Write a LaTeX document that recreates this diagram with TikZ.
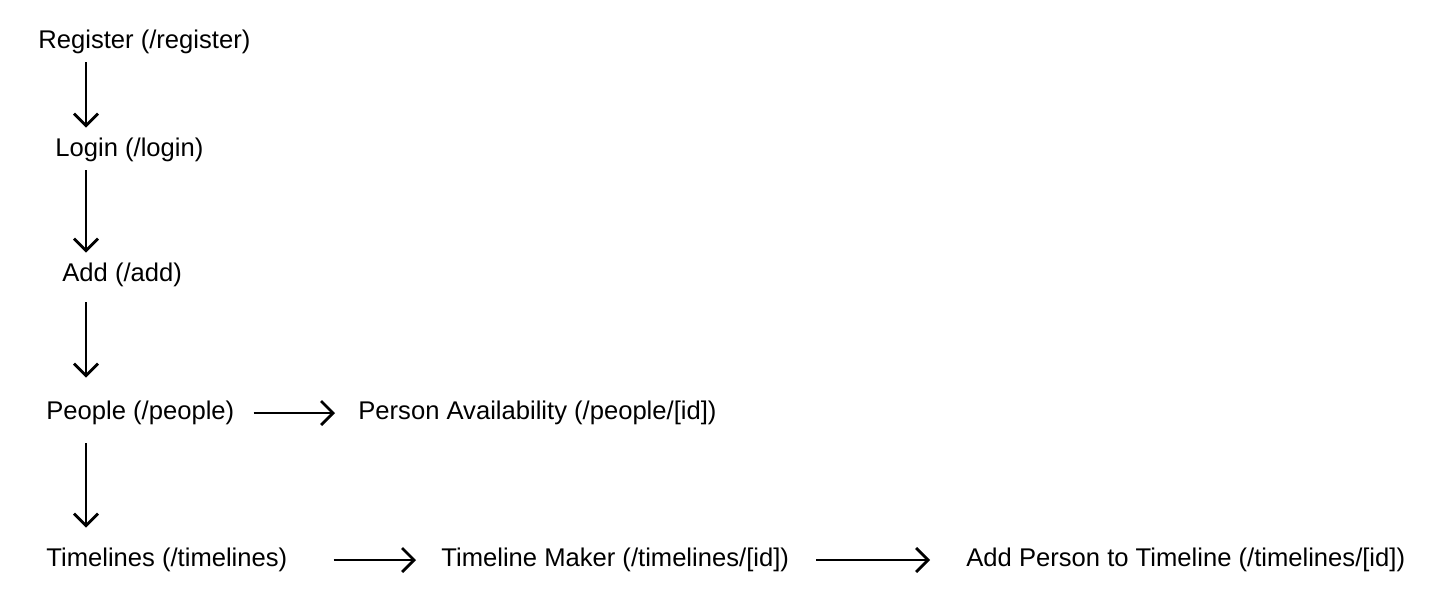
\documentclass[tikz,border=0pt]{standalone}
\usepackage{fontspec}
\setmainfont{Liberation Sans}
\usetikzlibrary{arrows.meta}

\begin{document}
\begin{tikzpicture}[x=0.5pt,y=-0.5pt,>={Straight Barb[length=6pt,width=12pt]},
  page/.style={anchor=west,inner xsep=0pt,inner ysep=5pt,font=\fontsize{12.8}{15}\selectfont},
  flow/.style={->,line width=1.4pt}]
  \useasboundingbox (0,0) rectangle (1440,605);
  % pages down the left column
  \node[page] (register) at (38,42) {Register (/register)};
  \node[page] (login) at (55,150) {Login (/login)};
  \node[page] (add) at (62,275) {Add (/add)};
  \node[page] (people) at (46,413) {People (/people)};
  \node[page] (timelines) at (46,560) {Timelines (/timelines)};
  % pages reached sideways
  \node[page] (avail) at (358,413) {Person Availability (/people/[id])};
  \node[page] (maker) at (441,560) {Timeline Maker (/timelines/[id])};
  \node[page] (addperson) at (966,560) {Add Person to Timeline (/timelines/[id])};
  % the downward arrows all sit on one vertical line
  \coordinate (spine) at (86,0);
  \draw[flow,shorten <=-1pt] (register.south -| spine) -- (login.north -| spine);
  \draw[flow,shorten <=-1pt] (login.south -| spine) -- (add.north -| spine);
  \draw[flow,shorten <=2.5pt,shorten >=6.5pt] (add.south -| spine) -- (people.north -| spine);
  \draw[flow,shorten <=4pt,shorten >=5pt] (people.south -| spine) -- (timelines.north -| spine);
  % sideways arrows
  \draw[flow,shorten <=9.5pt,shorten >=11.5pt] (people) -- (avail);
  \draw[flow,shorten <=23pt,shorten >=12.5pt] (timelines) -- (maker);
  \draw[flow,shorten <=13.5pt,shorten >=18pt] (maker) -- (addperson);
\end{tikzpicture}
\end{document}
